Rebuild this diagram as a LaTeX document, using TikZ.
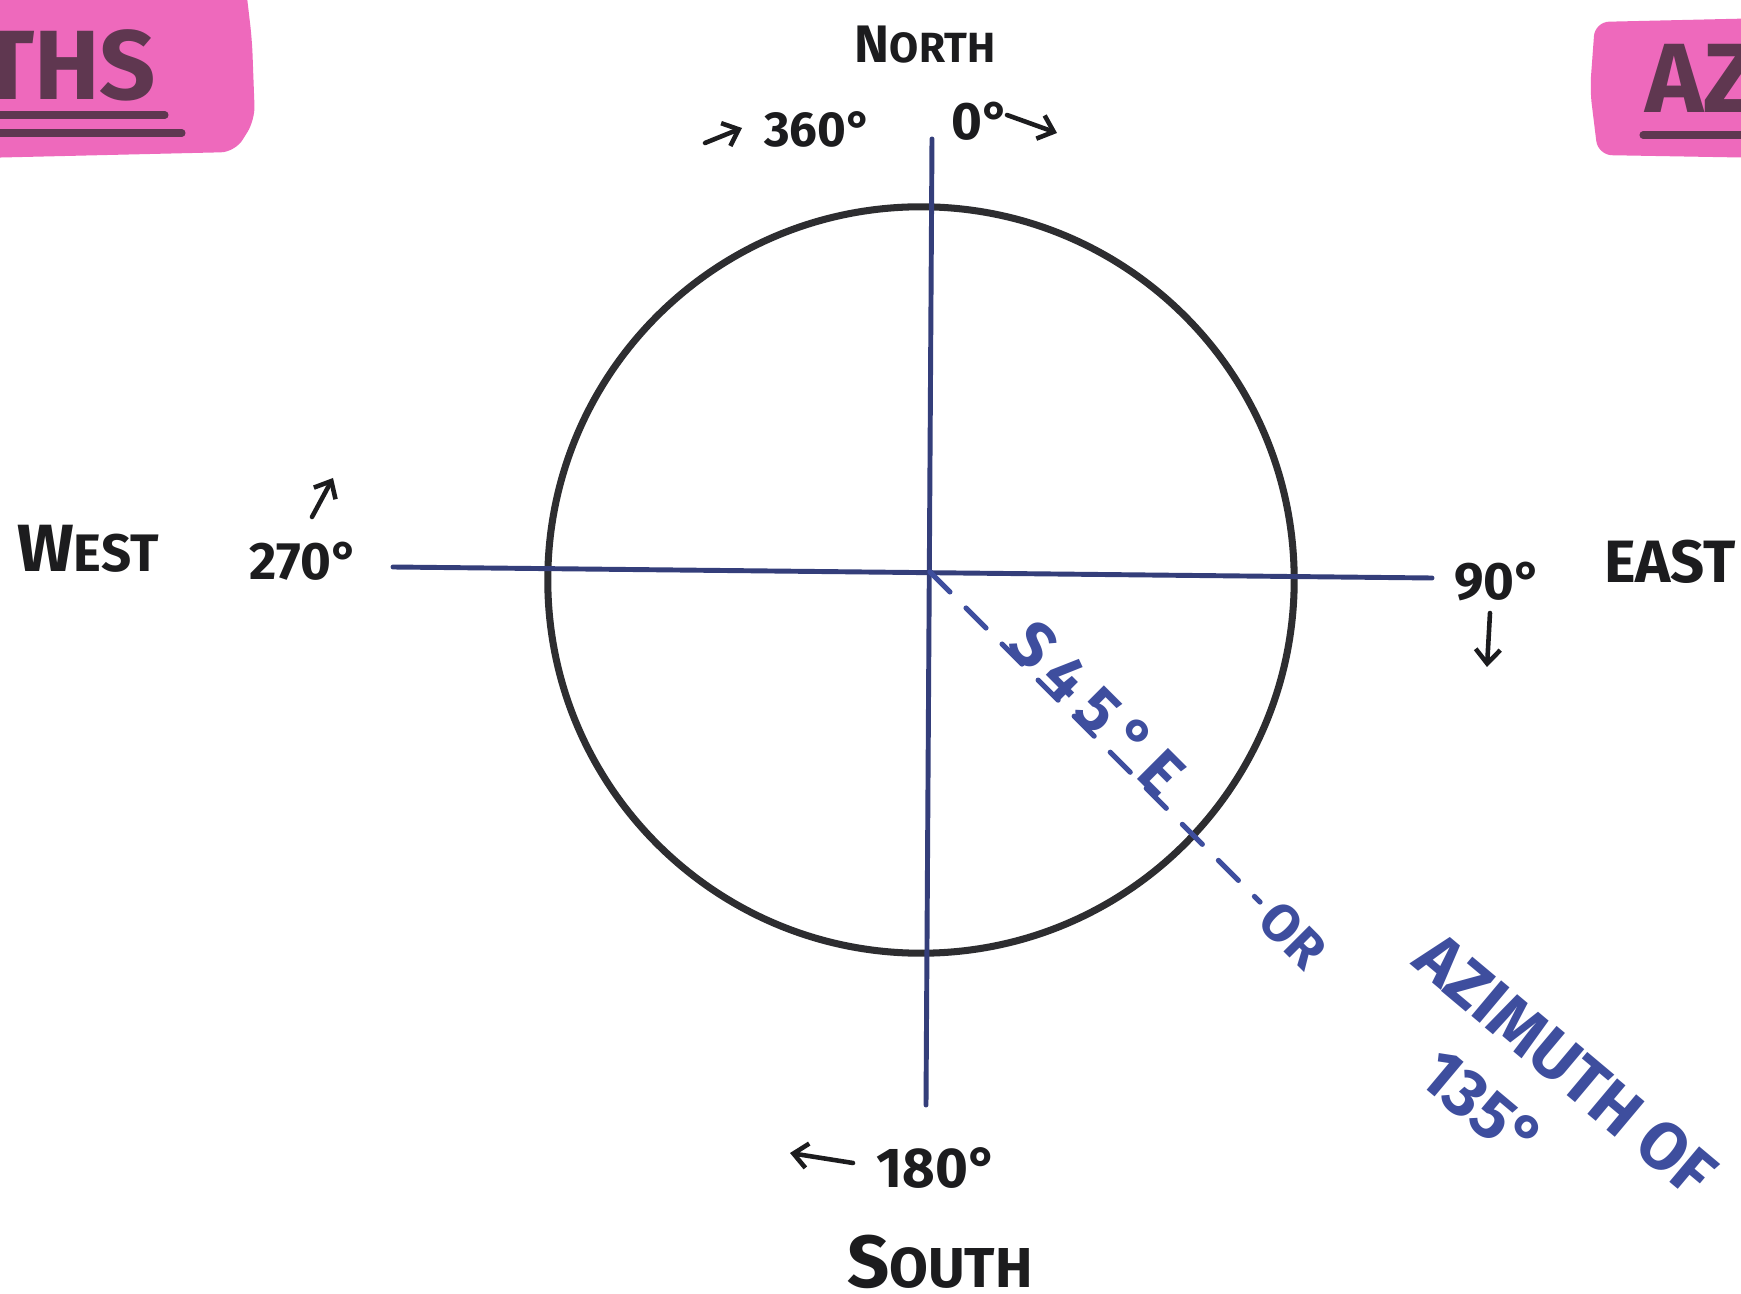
\documentclass[tikz,border=0pt]{standalone}
\usepackage{fontspec}
\setmainfont{Fira Sans}
\usetikzlibrary{arrows.meta}

\definecolor{ink}{RGB}{28,28,30}
\definecolor{rim}{RGB}{45,45,48}
\definecolor{navy}{RGB}{52,62,122}
\definecolor{pen}{RGB}{62,78,158}
\definecolor{marker}{RGB}{238,105,188}
\definecolor{plum}{RGB}{95,55,80}

\newcommand{\fs}[1]{\fontsize{#1}{#1}\selectfont}

\begin{document}
\begin{tikzpicture}[x=0.01cm, y=-0.01cm, every node/.style={inner sep=0pt, text=ink}]
  \tikzset{
    lbl/.style={font=\bfseries\fs{#1}},
    axisline/.style={draw=navy, line width=1.4pt, line cap=round},
    bearline/.style={draw=pen, line width=1.5pt, line cap=round, dash pattern=on 8pt off 6.5pt},
    tick/.style={draw=ink, line width=1.3pt, line cap=round, -{Straight Barb[length=4pt,width=7pt]}},
    penlbl/.style={text=pen, font=\bfseries\fs{#1}},
    hilite/.style={text=plum, font=\bfseries\fs{28}}
  }
  \useasboundingbox (0,0) rectangle (1741,1294);
  \clip (0,0) rectangle (1741,1294);
  \fill[white] (0,0) rectangle (1741,1294);

  % highlighter tabs
  \fill[marker, rounded corners=4pt] (-20,-20) -- (245,-20) -- (252,40) -- (255,120) -- (235,152) -- (-20,158) -- cycle;
  \fill[marker, rounded corners=4pt] (1595,22) -- (1770,18) -- (1770,158) -- (1598,155) -- (1590,90) -- cycle;
  \node[hilite, anchor=base east] (tabl) at (157,100) {THS};
  \node[hilite, anchor=base west] (tabr) at (1645,113) {AZ};
  \draw[plum, line width=2pt, line cap=round] (0,115) -- (165,115);
  \draw[plum, line width=2pt, line cap=round] (0,133) -- (182,133);
  \draw[plum, line width=2pt, line cap=round] (1643,135) -- (1760,135);

  % compass
  \draw[rim, line width=2pt] (921,580) circle[radius=3.73cm];
  \coordinate (o) at (930,572);
  \coordinate (endN) at (932,139);
  \coordinate (endS) at (926,1105);
  \coordinate (endW) at (393,567);
  \coordinate (endE) at (1432,578);
  \coordinate (tip) at (1260,902);
  \draw[axisline] (endW) -- (endE);
  \draw[axisline] (endN) -- (endS);
  \draw[bearline] (o) -- (tip)
    node[pos=0.46, sloped, anchor=base, penlbl=18] (brg) {\addfontfeature{LetterSpace=18}S45°E}
    node[pos=1.1, sloped, penlbl=15] (orl) {OR};
  \node[penlbl=19, rotate=-40] (azi) at (1566,1065) {AZIMUTH OF};
  \node[penlbl=19, rotate=-40] (azideg) at (1482,1106) {135°};

  % labels
  \node[lbl=12, anchor=base] (north) at (925,63) {{\fs{15}N}ORTH};
  \node[lbl=14, anchor=base] (n360) at (818,147) {360°};
  \node[lbl=15, anchor=base] (n0) at (981,140) {0°};
  \node[lbl=15, anchor=base] (west) at (88,572) {{\fs{19}W}EST};
  \node[lbl=15, anchor=base] (n270) at (304,580) {270°};
  \node[lbl=15, anchor=base] (n90) at (1498,600) {90°};
  \node[lbl=17, anchor=base] (east) at (1670,583) {EAST};
  \node[lbl=16, anchor=base] (n180) at (937,1187) {180°};
  \node[lbl=16, anchor=base] (south) at (940,1287) {{\fs{21}S}OUTH};

  % little arrows
  \coordinate (t360) at (705,143); \coordinate (h360) at (742,128);
  \coordinate (t0) at (1007,115);  \coordinate (h0) at (1057,133);
  \coordinate (t270) at (312,517); \coordinate (h270) at (333,478);
  \coordinate (t90) at (1490,613); \coordinate (h90) at (1487,667);
  \coordinate (t180) at (853,1163); \coordinate (h180) at (790,1153);
  \foreach \a/\b in {t360/h360, t0/h0, t270/h270, t90/h90, t180/h180}
    \draw[tick] (\a) -- (\b);
\end{tikzpicture}
\end{document}
